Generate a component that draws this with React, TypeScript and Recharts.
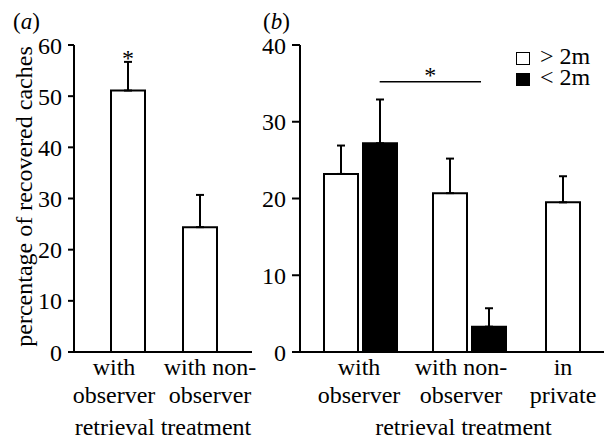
import React from "react";
import {
  BarChart,
  Bar,
  XAxis,
  YAxis,
  ErrorBar,
  LabelList,
  Legend,
  ReferenceLine,
} from "recharts";

const FONT = "'Liberation Serif', 'Times New Roman', serif";

// panel (a)
const categoriesA = ["with\nobserver", "with non-\nobserver"];
const recoveredA = [51.1, 24.4];
const errA = [5.6, 6.3];
const sigA = ["*", ""];
const ticksA = [0, 10, 20, 30, 40, 50, 60];

// panel (b)
const categoriesB = ["with\nobserver", "with non-\nobserver", "in\nprivate"];
const seriesB = ["> 2m", "< 2m"];
const farB = [23.2, 20.7, 19.5]; // > 2m
const nearB = [27.2, 3.3, null]; // < 2m
const farErrB = [3.7, 4.5, 3.4];
const nearErrB = [5.7, 2.4, null];
const ticksB = [0, 10, 20, 30, 40];
const sigLineB = 35.2;

const dataA = categoriesA.map((c, i) => ({
  cat: c,
  value: recoveredA[i],
  err: [0, errA[i]],
  sig: sigA[i],
}));

// groups with both distances use paired bars; a group with only "> 2m" gets a centred single bar
const dataB = categoriesB.map((c, i) => {
  const paired = nearB[i] != null;
  return {
    cat: c,
    far: paired ? farB[i] : null,
    farErr: paired ? [0, farErrB[i]] : null,
    near: nearB[i],
    nearErr: nearErrB[i] != null ? [0, nearErrB[i]] : null,
    alone: paired ? null : farB[i],
    aloneErr: paired ? null : [0, farErrB[i]],
  };
});

const tickStyle = { fill: "#000", fontSize: 24, fontFamily: FONT };

const CatTick = (props: any) => {
  const { x, y, payload } = props;
  const lines = String(payload.value).split("\n");
  return (
    <text x={x} y={y} textAnchor="middle" fill="#000" fontSize={24} fontFamily={FONT}>
      {lines.map((l, i) => (
        <tspan key={i} x={x} dy={i === 0 ? 23 : 28}>
          {l}
        </tspan>
      ))}
    </text>
  );
};

const YTitle = (props: any) => {
  const vb = props.viewBox || { x: 0, y: 45, height: 307 };
  const x = vb.x + 32;
  const y = vb.y + vb.height / 2 - 2;
  return (
    <text
      x={x}
      y={y}
      transform={`rotate(-90 ${x} ${y})`}
      textAnchor="middle"
      fill="#000"
      fontSize={24}
      fontFamily={FONT}
    >
      percentage of recovered caches
    </text>
  );
};

const Star = (props: any) => {
  const vb = props.viewBox || {};
  let x = 0;
  let y = 0;
  if (vb.x1 != null) {
    x = (vb.x1 + vb.x2) / 2;
    y = vb.y1;
  } else {
    x = vb.x + (vb.width || 0) / 2;
    y = vb.y;
  }
  return (
    <text x={x} y={y + 1.5} textAnchor="middle" fill="#000" fontSize={24} fontFamily={FONT}>
      *
    </text>
  );
};

const BarStar = (props: any) => {
  const { x, y, width, value } = props;
  if (!value) return null;
  return (
    <text x={x + width / 2} y={y - 25} textAnchor="middle" fill="#000" fontSize={24} fontFamily={FONT}>
      {value}
    </text>
  );
};

const LegendBox = (props: any) => {
  const payload = (props.payload || []).filter((e: any) => seriesB.includes(e.value));
  payload.sort((p: any, q: any) => seriesB.indexOf(p.value) - seriesB.indexOf(q.value));
  return (
    <div style={{ fontFamily: FONT, fontSize: 24, lineHeight: "21px", color: "#000" }}>
      {payload.map((e: any) => (
        <div key={e.value} style={{ display: "flex", alignItems: "flex-start", whiteSpace: "nowrap" }}>
          <span
            style={{
              display: "inline-block",
              boxSizing: "border-box",
              width: 14,
              height: 13,
              marginTop: 6,
              marginRight: 10,
              border: "1.5px solid #000",
              background: e.payload?.fill ?? e.color,
            }}
          />
          {e.value}
        </div>
      ))}
    </div>
  );
};

const panelTitle = { position: "absolute" as const, top: 13, fontSize: 23, lineHeight: "18px" };

export default function App() {
  return (
    <div
      style={{
        position: "fixed",
        left: 0,
        top: 0,
        width: 604,
        height: 441,
        overflow: "hidden",
        background: "#fff",
        fontFamily: FONT,
      }}
    >
      <div style={{ ...panelTitle, left: 13 }}>
        (<i>a</i>)
      </div>
      <div style={{ ...panelTitle, left: 263 }}>
        (<i>b</i>)
      </div>

      <div style={{ position: "absolute", left: 0, top: 0 }}>
        <BarChart
          width={264}
          height={441}
          data={dataA}
          margin={{ top: 45, right: 12, bottom: 6, left: 0 }}
          barSize={34}
        >
          <XAxis
            xAxisId="labels"
            dataKey="cat"
            height={83}
            padding={{ left: -8, right: -6 }}
            axisLine={{ stroke: "#000", strokeWidth: 2 }}
            tickLine={false}
            tickSize={0}
            tickMargin={0}
            tick={<CatTick />}
            interval={0}
            label={{ value: "retrieval treatment", position: "insideBottom", offset: 0, ...tickStyle }}
          />
          <XAxis xAxisId="bars" dataKey="cat" hide height={0} padding={{ left: 18, right: 16 }} />
          <YAxis
            width={74}
            domain={[0, 60]}
            ticks={ticksA}
            interval={0}
            axisLine={{ stroke: "#000", strokeWidth: 2 }}
            tickLine={{ stroke: "#000", strokeWidth: 2 }}
            tickSize={6}
            tickMargin={6}
            tick={tickStyle}
            label={<YTitle />}
          />
          <Bar xAxisId="bars" dataKey="value" fill="#fff" stroke="#000" strokeWidth={2} isAnimationActive={false}>
            <ErrorBar dataKey="err" direction="y" width={4} stroke="#000" strokeWidth={2} isAnimationActive={false} />
            <LabelList dataKey="sig" content={<BarStar />} />
          </Bar>
        </BarChart>
      </div>

      <div style={{ position: "absolute", left: 250, top: 0 }}>
        <BarChart
          width={383}
          height={441}
          data={dataB}
          margin={{ top: 45, right: 0, bottom: 6, left: 0 }}
          barSize={34}
          barGap={5}
        >
          <XAxis
            xAxisId="labels"
            dataKey="cat"
            height={83}
            padding={{ left: 8, right: 19 }}
            axisLine={{ stroke: "#000", strokeWidth: 2 }}
            tickLine={false}
            tickSize={0}
            tickMargin={0}
            tick={<CatTick />}
            interval={0}
            label={{ value: "retrieval treatment", position: "insideBottom", offset: 0, dx: -3, ...tickStyle }}
          />
          <XAxis xAxisId="pair" dataKey="cat" hide height={0} padding={{ left: 6, right: 0 }} />
          <XAxis xAxisId="sig" dataKey="cat" hide height={0} padding={{ left: 29, right: 0 }} />
          <YAxis
            width={50}
            domain={[0, 40]}
            ticks={ticksB}
            interval={0}
            axisLine={{ stroke: "#000", strokeWidth: 2 }}
            tickLine={{ stroke: "#000", strokeWidth: 2 }}
            tickSize={8}
            tickMargin={6}
            tick={tickStyle}
          />
          <Legend
            layout="vertical"
            align="center"
            verticalAlign="middle"
            content={<LegendBox />}
            wrapperStyle={{ position: "absolute", top: 46, left: 266, width: 110 }}
          />
          <Bar xAxisId="pair" dataKey="far" name={seriesB[0]} fill="#fff" stroke="#000" strokeWidth={2} isAnimationActive={false}>
            <ErrorBar dataKey="farErr" direction="y" width={4} stroke="#000" strokeWidth={2} isAnimationActive={false} />
          </Bar>
          <Bar xAxisId="pair" dataKey="near" name={seriesB[1]} fill="#000" stroke="#000" strokeWidth={2} isAnimationActive={false}>
            <ErrorBar dataKey="nearErr" direction="y" width={4} stroke="#000" strokeWidth={2} isAnimationActive={false} />
          </Bar>
          <Bar
            xAxisId="labels"
            dataKey="alone"
            legendType="none"
            fill="#fff"
            stroke="#000"
            strokeWidth={2}
            isAnimationActive={false}
          >
            <ErrorBar dataKey="aloneErr" direction="y" width={4} stroke="#000" strokeWidth={2} isAnimationActive={false} />
          </Bar>
          <ReferenceLine
            xAxisId="sig"
            segment={[
              { x: categoriesB[0], y: sigLineB },
              { x: categoriesB[1], y: sigLineB },
            ]}
            stroke="#000"
            strokeWidth={1.5}
            label={<Star />}
          />
        </BarChart>
      </div>
    </div>
  );
}
